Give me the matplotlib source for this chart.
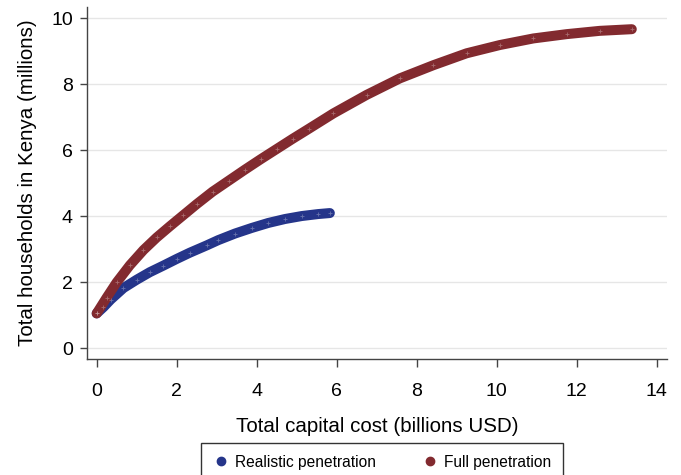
import matplotlib
matplotlib.use('Agg')
import matplotlib.pyplot as plt

plt.rcParams['font.family'] = ['Liberation Sans', 'DejaVu Sans']

# Full penetration (maroon) - capital cost vs households
full_cost = [0.0, 0.25, 0.5, 0.83, 1.17, 1.5, 1.83, 2.17, 2.5, 2.9, 3.3,
             3.7, 4.1, 4.5, 4.9, 5.3, 5.92, 6.75, 7.58, 8.42, 9.25, 10.08,
             10.92, 11.75, 12.58, 13.38]
full_hh = [1.06, 1.54, 2.0, 2.52, 2.98, 3.36, 3.70, 4.04, 4.37, 4.75, 5.08,
           5.41, 5.73, 6.04, 6.35, 6.65, 7.12, 7.68, 8.18, 8.58, 8.94, 9.19,
           9.39, 9.52, 9.62, 9.67]

# Realistic penetration (navy)
real_cost = [0.0, 0.17, 0.35, 0.67, 1.0, 1.33, 1.67, 2.0, 2.33, 2.75, 3.04,
             3.46, 3.88, 4.29, 4.71, 5.13, 5.54, 5.83]
real_hh = [1.06, 1.25, 1.48, 1.83, 2.08, 2.31, 2.51, 2.71, 2.90, 3.12, 3.28,
           3.48, 3.65, 3.80, 3.92, 4.01, 4.07, 4.10]

xticks = [0, 2, 4, 6, 8, 10, 12, 14]
yticks = [0, 2, 4, 6, 8, 10]

navy = '#25358a'
maroon = '#822a2f'

fig = plt.figure(figsize=(6.81, 4.75), dpi=100)
ax = fig.add_axes([0.1273, 0.2436, 0.8527, 0.7422])

for xs, ys, col in [(real_cost, real_hh, navy), (full_cost, full_hh, maroon)]:
    ax.plot(xs, ys, color=col, lw=7.2, solid_capstyle='round',
            solid_joinstyle='round', zorder=3)
    # faint speckle like the overlapping stata markers
    ax.plot(xs, ys, ls='none', marker='+', ms=3, mec='white', mew=0.6,
            alpha=0.3, zorder=4)

# legend handles
ax.plot([], [], ls='none', marker='o', ms=6, color=navy, label='Realistic penetration')
ax.plot([], [], ls='none', marker='o', ms=6, color=maroon, label='Full penetration')

ax.set_xlim(-0.25, 14.27)
ax.set_ylim(-0.33, 10.35)
ax.set_xticks(xticks)
ax.set_yticks(yticks)

ax.grid(axis='y', color='#e6e6e6', lw=1)
ax.set_axisbelow(True)
for s in ['top', 'right']:
    ax.spines[s].set_visible(False)
for s in ['left', 'bottom']:
    ax.spines[s].set_color('#444444')
    ax.spines[s].set_linewidth(1)

ax.tick_params(axis='x', direction='out', length=6, width=1, color='#444444',
               pad=11, labelsize=14)
ax.tick_params(axis='y', direction='out', length=5, width=1, color='#444444',
               pad=5, labelsize=14)

ax.set_xlabel('Total capital cost (billions USD)', fontsize=14.8, labelpad=12)
ax.set_ylabel('Total households in Kenya (millions)', fontsize=14.8, labelpad=10)

leg = fig.legend(loc='upper center', bbox_to_anchor=(0.561, 0.0674), ncol=2,
                 fontsize=11.2, frameon=True, fancybox=False, handletextpad=0.4,
                 columnspacing=3.0, borderpad=0.75, handlelength=1.0,
                 borderaxespad=0)
leg.get_frame().set_edgecolor('black')
leg.get_frame().set_linewidth(1)

fig.savefig('out.png', dpi=100)
